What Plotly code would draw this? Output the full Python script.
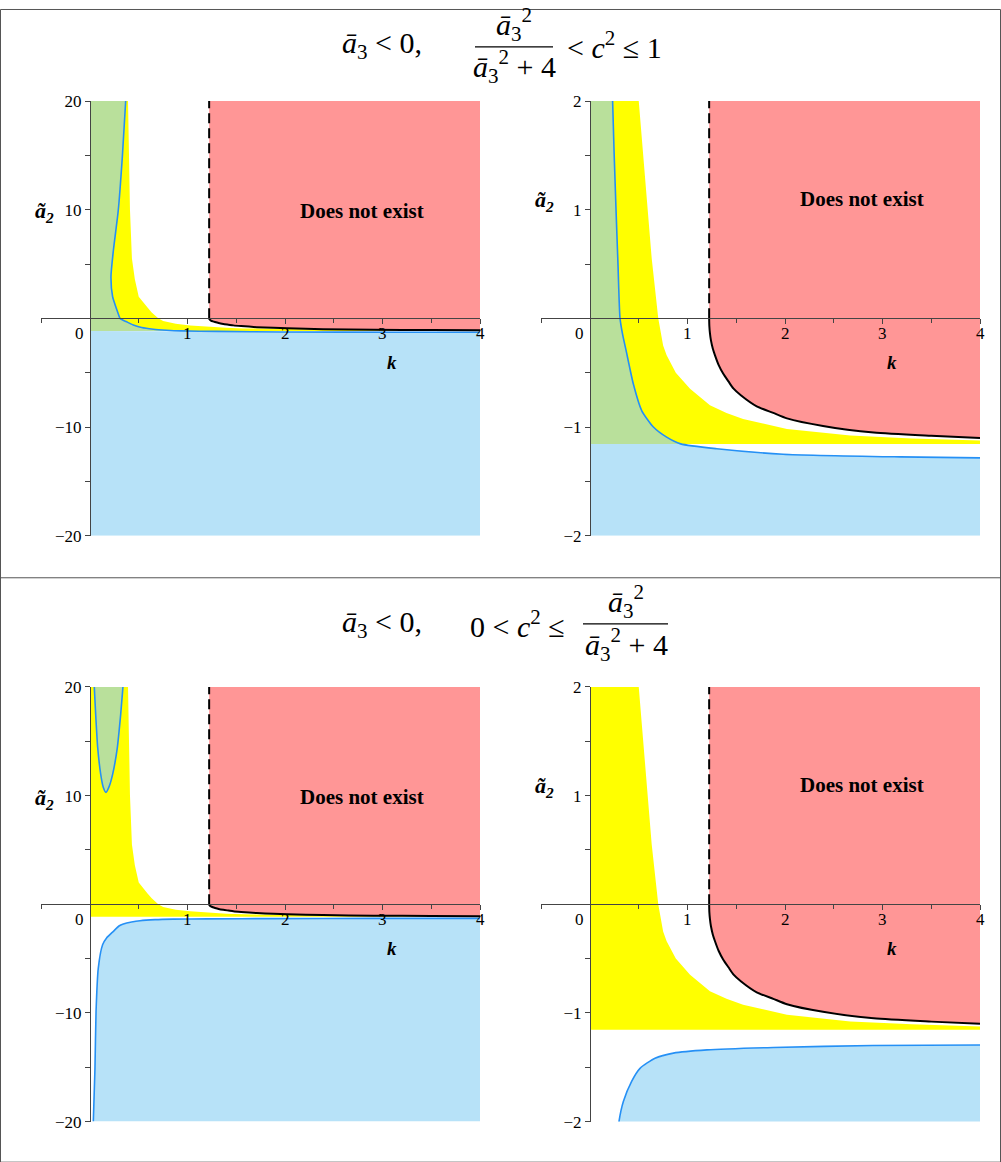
import plotly.graph_objects as go

# the photographed page is squeezed a little in height and starts a few
# pixels down, so window pixel p maps to figure pixel (p - SHIFT) / SQUEEZE
WIN_W, WIN_H = 1001, 1162
SQUEEZE, SHIFT = 0.9823, 9.1
W, H = WIN_W, 1173

# boundary curves, (k, a2) pairs
# right edge of the yellow region
yellow_k = [0.39, 0.40, 0.41, 0.43, 0.46, 0.50, 0.55, 0.59, 0.633, 0.70, 0.75,
            0.786, 0.88, 1.026, 1.23, 1.40, 1.57, 2.02, 2.67, 3.3, 4.0]
yellow_a2 = [20, 14, 10, 5.5, 3.6, 2.0, 1.45, 1.0, 0.55, 0.0, -0.25,
             -0.34, -0.5, -0.648, -0.80, -0.87, -0.925, -1.017, -1.078, -1.105, -1.125]
floor_a2 = -1.155

# blue curve in the upper pair of panels
blue1_k = [0.366, 0.332, 0.29, 0.24, 0.215, 0.232, 0.267, 0.287, 0.308, 0.335, 0.37,
           0.444, 0.53, 0.65, 0.786, 0.93, 1.30, 1.98, 3.18, 4.0]
blue1_a2 = [20, 14.9, 9.95, 6.27, 3.8, 2.0, 1.0, 0.5, 0.0, -0.15, -0.295,
            -0.602, -0.848, -1.0, -1.093, -1.155, -1.2, -1.25, -1.275, -1.284]

# blue curves in the lower pair of panels
ucurve_k = [0.044, 0.058, 0.079, 0.11, 0.135, 0.164, 0.195, 0.232, 0.28, 0.315, 0.338]
ucurve_a2 = [20, 17.5, 14.4, 11.95, 10.8, 10.3, 10.8, 11.95, 14.4, 17.5, 20]
blue2_k = [0.034, 0.051, 0.062, 0.085, 0.13, 0.17, 0.24, 0.297, 0.342, 0.427, 0.513,
           0.667, 0.855, 1.2, 1.88, 2.9, 4.0]
blue2_a2 = [-20, -15.1, -9.86, -5.87, -3.71, -3.1, -2.49, -2.0, -1.816, -1.63, -1.51,
            -1.417, -1.37, -1.34, -1.318, -1.30, -1.295]

# edge of the "does not exist" region
k_star = 1.222
black_k = [1.222, 1.224, 1.23, 1.24, 1.26, 1.282, 1.32, 1.367, 1.42, 1.47, 1.55,
           1.71, 1.88, 2.02, 2.39, 2.91, 3.5, 4.0]
black_a2 = [0, -0.07, -0.135, -0.2, -0.28, -0.34, -0.43, -0.51, -0.58, -0.645, -0.71,
            -0.81, -0.87, -0.92, -0.99, -1.05, -1.08, -1.10]

# ticks
k_ticks = [1, 2, 3, 4]
k_minor = [-0.5, 0.5, 1.5, 2.5, 3.5]
a2_ticks_big = [-20, -10, 10, 20]
a2_minor_big = [-15, -5, 5, 15]
a2_ticks_small = [-2, -1, 1, 2]
a2_minor_small = [-1.5, -0.5, 0.5, 1.5]

GREEN = "#b9e09b"
YELLOW = "#ffff00"
RED = "#ff9696"
BLUE = "#b7e2f8"
BLUE_LINE = "#2590f5"
AXIS = "#444444"
SERIF = "Liberation Serif"


def fx(p):
    return p / W


def fy(p):
    return 1 - (p - SHIFT) / SQUEEZE / H


# suffix, x pixels, y pixels (top, bottom), a2 limit, row
panels = [
    ("", (41.25, 480), (101, 535), 20, "top"),
    ("2", (541.25, 980), (101, 535), 2, "top"),
    ("3", (41.25, 480), (686, 1120), 20, "bottom"),
    ("4", (541.25, 980), (686, 1120), 2, "bottom"),
]

fig = go.Figure()
layout = {}
annotations = []

split = blue1_a2.index(floor_a2)
tickfont = dict(family=SERIF, size=17, color="black")

for s, (xa, xb), (ya, yb), ym, row in panels:
    ax = dict(xaxis="x" + s, yaxis="y" + s, showlegend=False, hoverinfo="skip")
    fill = dict(mode="lines", line=dict(width=0), fill="toself")

    # yellow
    fig.add_trace(go.Scatter(x=[0, 4] + yellow_k[::-1] + [0],
                             y=[floor_a2, floor_a2] + yellow_a2[::-1] + [ym],
                             fillcolor=YELLOW, **fill, **ax))
    if row == "top":
        fig.add_trace(go.Scatter(x=[0, 0] + blue1_k[:split + 1],
                                 y=[floor_a2, ym] + blue1_a2[:split + 1],
                                 fillcolor=GREEN, **fill, **ax))
        fig.add_trace(go.Scatter(x=[0] + blue1_k[split:] + [4, 0],
                                 y=[floor_a2] + blue1_a2[split:] + [-ym, -ym],
                                 fillcolor=BLUE, **fill, **ax))
    else:
        fig.add_trace(go.Scatter(x=ucurve_k, y=ucurve_a2,
                                 fillcolor=GREEN, **fill, **ax))
        fig.add_trace(go.Scatter(x=blue2_k + [4], y=blue2_a2 + [-ym],
                                 fillcolor=BLUE, **fill, **ax))
    # red
    fig.add_trace(go.Scatter(x=[k_star, 4] + black_k[::-1],
                             y=[ym, ym] + black_a2[::-1],
                             fillcolor=RED, **fill, **ax))

    bl = dict(color=BLUE_LINE, width=1.6, shape="spline", smoothing=0.6)
    if row == "top":
        fig.add_trace(go.Scatter(x=blue1_k, y=blue1_a2, mode="lines", line=bl, **ax))
    else:
        fig.add_trace(go.Scatter(x=ucurve_k, y=ucurve_a2, mode="lines", line=bl, **ax))
        fig.add_trace(go.Scatter(x=blue2_k, y=blue2_a2, mode="lines", line=bl, **ax))

    fig.add_trace(go.Scatter(x=black_k, y=black_a2, mode="lines",
                             line=dict(color="black", width=2, shape="spline", smoothing=0.6), **ax))
    fig.add_trace(go.Scatter(x=[k_star, k_star], y=[0, ym], mode="lines",
                             line=dict(color="black", width=2, dash="10px,5px"), **ax))

    big = ym == 20
    layout["xaxis" + s] = dict(
        domain=[fx(xa), fx(xb)], range=[-0.5, 4], anchor="free",
        position=fy((ya + yb) / 2), showline=True, linecolor=AXIS, linewidth=1,
        ticks="outside", ticklen=5, tickcolor=AXIS, tickvals=k_ticks,
        showticklabels=False,
        minor=dict(tickvals=k_minor, ticks="outside", ticklen=4, tickcolor=AXIS),
        showgrid=False, zeroline=False, layer="above traces", fixedrange=True)
    layout["yaxis" + s] = dict(
        domain=[fy(yb), fy(ya)], range=[-ym, ym], anchor="free",
        position=fx(xa + (xb - xa) * 0.5 / 4.5), showline=True, linecolor=AXIS,
        linewidth=1, ticks="outside", ticklen=5, tickcolor=AXIS,
        tickvals=a2_ticks_big if big else a2_ticks_small,
        minor=dict(tickvals=a2_minor_big if big else a2_minor_small,
                   ticks="outside", ticklen=5, tickcolor=AXIS),
        showgrid=False, zeroline=False, layer="above traces", tickfont=tickfont,
        fixedrange=True)

    # k tick labels sit just under the k axis, which crosses at a2 = 0
    for t in k_ticks:
        annotations.append(dict(xref="x" + s, yref="y" + s, x=t, y=0, yshift=-15,
                                text=str(t), showarrow=False, font=tickfont))
    annotations.append(dict(xref="x" + s, yref="y" + s, x=0, y=0, xshift=-11, yshift=-15,
                            text="0", showarrow=False, font=tickfont))
    annotations.append(dict(xref="x" + s, yref="y" + s, x=3.1, y=0, yshift=-44,
                            text="<b><i>k</i></b>", showarrow=False,
                            font=dict(family=SERIF, size=19, color="black")))

centre = dict(showarrow=False, xanchor="center", yanchor="middle")

# axis labels and region labels, window pixel positions
for x, y in [(44, 212), (544, 201), (44, 798), (544, 786)]:
    annotations.append(dict(xref="paper", yref="paper", x=fx(x), y=fy(y),
                            text="<b><i>ã<sub>2</sub></i></b>",
                            font=dict(family=SERIF, size=22, color="black"), **centre))
for x, y in [(362, 211), (862, 199), (362, 796), (862, 784)]:
    annotations.append(dict(xref="paper", yref="paper", x=fx(x), y=fy(y),
                            text="<b>Does not exist</b>",
                            font=dict(family=SERIF, size=21, color="black"), **centre))

a3 = "<i>ā</i><sub>3</sub>"
a3sq = "<i>ā</i><sub>3</sub><sup>2</sup>"
tfont = dict(family=SERIF, size=30, color="black")
titles = [
    (382, 45, a3 + " &lt; 0,"),
    (514, 25, a3sq),
    (514, 67, a3sq + " + 4"),
    (614, 45, "&lt; <i>c</i><sup>2</sup> ≤ 1"),
    (382, 623, a3 + " &lt; 0,"),
    (517, 623, "0 &lt; <i>c</i><sup>2</sup> ≤"),
    (626, 601, a3sq),
    (626, 644, a3sq + " + 4"),
]
for x, y, t in titles:
    annotations.append(dict(xref="paper", yref="paper", x=fx(x), y=fy(y), text=t,
                            font=tfont, **centre))

shapes = [
    dict(type="line", xref="paper", yref="paper", x0=fx(475), x1=fx(553), y0=fy(47), y1=fy(47),
         line=dict(color="black", width=1.2)),
    dict(type="line", xref="paper", yref="paper", x0=fx(583), x1=fx(668), y0=fy(623), y1=fy(623),
         line=dict(color="black", width=1.2)),
    dict(type="rect", xref="paper", yref="paper", x0=fx(0.5), x1=fx(1000.5),
         y0=fy(1160.5), y1=1 - 0.5 / H, line=dict(color="#555555", width=1)),
    dict(type="line", xref="paper", yref="paper", x0=fx(0), x1=fx(1001), y0=fy(577), y1=fy(577),
         line=dict(color="#555555", width=1)),
]

fig.update_layout(width=W, height=H, margin=dict(l=0, r=0, t=0, b=0, pad=0),
                  paper_bgcolor="white", plot_bgcolor="white",
                  annotations=annotations, shapes=shapes, **layout)

fig.write_html("out.html", config={"displayModeBar": False},
               post_script="document.body.style.margin='0px';")
